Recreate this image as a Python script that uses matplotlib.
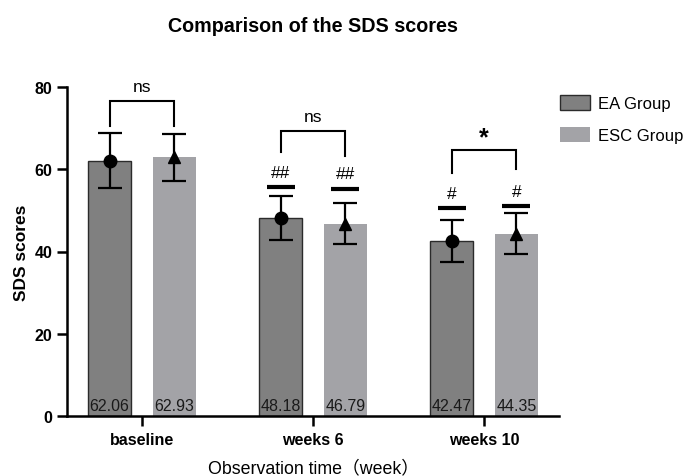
import matplotlib

matplotlib.use("Agg")
import matplotlib.pyplot as plt  # noqa: E402
import numpy as np  # noqa: E402

plt.rcParams["font.family"] = ["Liberation Sans", "Noto Sans CJK SC", "DejaVu Sans"]

# SDS scores, mean and SD per group at each observation time
timepoints = ["baseline", "weeks 6", "weeks 10"]
ea_mean = [62.06, 48.18, 42.47]
ea_sd = [6.7, 5.4, 5.1]
esc_mean = [62.93, 46.79, 44.35]
esc_sd = [5.7, 5.0, 5.0]

# within-group change vs baseline (## / #) and between-group comparison
ea_marks = ["", "##", "#"]
esc_marks = ["", "##", "#"]
ea_mark_line = [None, 55.6, 50.6]
esc_mark_line = [None, 55.3, 51.0]
between_labels = ["ns", "ns", "*"]
bracket_top = [76.6, 69.3, 64.7]
bracket_left_end = [70.6, 64.2, 59.1]
bracket_right_end = [70.6, 63.3, 60.1]

EA_COLOR = "#808080"
ESC_COLOR = "#a3a3a7"

x = np.arange(len(timepoints))
offset = 0.189
width = 0.251

fig = plt.figure(figsize=(6.9, 4.77), dpi=100)
ax = fig.add_axes([67 / 690, 1 - 417 / 477, (559 - 67) / 690, (417 - 88) / 477])

ax.bar(x - offset, ea_mean, width, color=EA_COLOR, edgecolor="#2b2b2b", linewidth=1.0,
       label="EA Group", zorder=2)
ax.bar(x + offset, esc_mean, width, color=ESC_COLOR, edgecolor="none",
       label="ESC Group", zorder=2)

ax.errorbar(x - offset, ea_mean, yerr=ea_sd, fmt="o", color="black", markersize=9,
            elinewidth=1.6, capsize=8.3, capthick=1.6, zorder=3)
ax.errorbar(x + offset, esc_mean, yerr=esc_sd, fmt="^", color="black", markersize=9,
            elinewidth=1.6, capsize=8.3, capthick=1.6, zorder=3)

# value labels at the foot of each bar
for xi, v in zip(x - offset, ea_mean):
    ax.text(xi, 1.45, f"{v:.2f}", ha="center", va="baseline", fontsize=11.5, color="#1a1a1a", zorder=4)
for xi, v in zip(x + offset, esc_mean):
    ax.text(xi, 1.45, f"{v:.2f}", ha="center", va="baseline", fontsize=11.5, color="#1a1a1a", zorder=4)

# significance vs baseline
half = 0.082
for xs, marks, lines in [(x - offset, ea_marks, ea_mark_line), (x + offset, esc_marks, esc_mark_line)]:
    for xi, m, ly in zip(xs, marks, lines):
        if not m:
            continue
        ax.plot([xi - half, xi + half], [ly, ly], color="black", lw=3, solid_capstyle="butt")
        ax.text(xi, ly + 1.8, m, ha="center", va="bottom", fontsize=12.5)

# between-group brackets
for i, lab in enumerate(between_labels):
    xl, xr = x[i] - offset, x[i] + offset
    ax.plot([xl, xl, xr, xr],
            [bracket_left_end[i], bracket_top[i], bracket_top[i], bracket_right_end[i]],
            color="black", lw=1.5, solid_joinstyle="miter")
    if lab == "*":
        ax.text(x[i], bracket_top[i] + 0.1, lab, ha="center", va="bottom", fontsize=18,
                fontweight="bold")
    else:
        ax.text(x[i], bracket_top[i] + 1.6, lab, ha="center", va="bottom", fontsize=12.5)

ax.set_xlim(-0.4386, 2.4386)
ax.set_ylim(0, 80)
ax.set_yticks([0, 20, 40, 60, 80])
ax.set_xticks(x)
ax.set_xticklabels(timepoints, fontweight="bold", fontsize=11.5)
for lbl in ax.get_yticklabels():
    lbl.set_fontweight("bold")
    lbl.set_fontsize(11.5)

for side in ["top", "right"]:
    ax.spines[side].set_visible(False)
for side in ["left", "bottom"]:
    ax.spines[side].set_linewidth(1.8)
ax.tick_params(axis="both", width=1.8, length=7.5, pad=3)
ax.tick_params(axis="x", pad=4)

ax.set_ylabel("SDS scores", fontweight="bold", fontsize=12.5, labelpad=4)
ax.set_xlabel("Observation time（week）", fontsize=12.8, labelpad=9)

fig.text(313 / 690, 1 - 26 / 477, "Comparison of the SDS scores", ha="center", va="center",
         fontsize=14.2, fontweight="bold")

ax.legend(loc="upper left", bbox_to_anchor=(560 / 690, 1 - 96 / 477), bbox_transform=fig.transFigure,
          frameon=False, fontsize=12, handlelength=1.8, handleheight=1.0, handletextpad=0.5,
          labelspacing=0.95, borderaxespad=0, borderpad=0)

fig.savefig("out.png", dpi=100)
